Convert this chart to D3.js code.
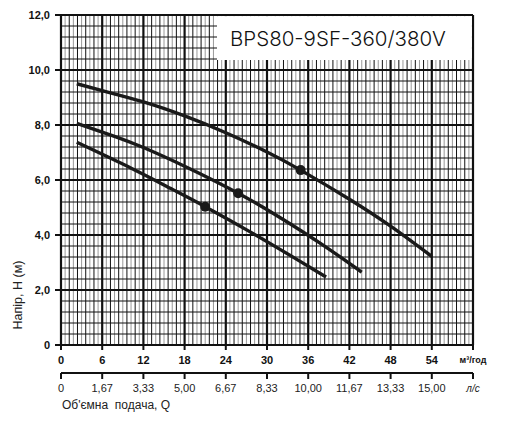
<!DOCTYPE html>
<html>
<head>
<meta charset="utf-8">
<script src="https://cdn.jsdelivr.net/npm/d3@7"></script>
<style>
  body { margin: 0; background: #fff; }
  text { font-family: "Liberation Sans", Arial, sans-serif; fill: #111; }
</style>
</head>
<body>
<div id="chart"></div>
<script>
// curve readings: flow Q (m3/h) and head H (m)
var q1 = [2.3, 6.0, 12.0, 18.0, 24.0, 30.0, 34.9, 42.0, 48.0, 54.0],
    h1 = [9.50, 9.25, 8.84, 8.33, 7.72, 7.02, 6.36, 5.30, 4.32, 3.22];
var q2 = [2.3, 8.0, 12.0, 18.0, 25.8, 32.0, 38.0, 43.8],
    h2 = [8.06, 7.57, 7.18, 6.50, 5.52, 4.62, 3.66, 2.65];
var q3 = [2.3, 10.3, 16.0, 21.0, 28.0, 34.1, 38.6],
    h3 = [7.37, 6.42, 5.69, 5.03, 4.05, 3.15, 2.47];
// duty points
var dotQ = [34.9, 25.8, 21.0],
    dotH = [6.36, 5.52, 5.03];

var yTicks = [0, 2, 4, 6, 8, 10, 12],
    yLabels = ["0", "2,0", "4,0", "6,0", "8,0", "10,0", "12,0"];
var xTicks = [0, 6, 12, 18, 24, 30, 36, 42, 48, 54, 60],
    xLabels = ["0", "6", "12", "18", "24", "30", "36", "42", "48", "54", "м³/год"],
    lsLabels = ["0", "1,67", "3,33", "5,00", "6,67", "8,33", "10,00", "11,67", "13,33", "15,00", "л/с"];

var title = "BPS80-9SF-360/380V";

(function () {
    var width = 512, height = 427;

    var svg = d3.select("#chart").append("svg")
        .attr("width", width)
        .attr("height", height);

    var x = d3.scaleLinear().domain([0, 60]).range([61, 473]);
    var y = d3.scaleLinear().domain([0, 12]).range([345, 15]);

    var grid = svg.append("g");

    // vertical grid: every 0.6, black every 1.2, thick every 6
    var vLines = d3.range(0, 101);
    grid.selectAll(".vl")
        .data(vLines)
        .enter().append("line")
        .attr("x1", function (i) { return x(i * 0.6); })
        .attr("x2", function (i) { return x(i * 0.6); })
        .attr("y1", y(0))
        .attr("y2", y(12))
        .attr("stroke", function (i) { return i % 2 === 0 ? "#111" : "#9a9a9a"; })
        .attr("stroke-width", function (i) { return i % 10 === 0 ? 2.2 : 1; });

    // horizontal grid: every 0.4, thick every 2
    var hLines = d3.range(0, 31);
    grid.selectAll(".hl")
        .data(hLines)
        .enter().append("line")
        .attr("x1", x(0))
        .attr("x2", x(60))
        .attr("y1", function (i) { return y(i * 0.4); })
        .attr("y2", function (i) { return y(i * 0.4); })
        .attr("stroke", "#111")
        .attr("stroke-width", function (i) { return i % 5 === 0 ? 2.2 : 1; });

    // title box
    svg.append("rect")
        .attr("x", 217)
        .attr("y", y(12) + 1.1)
        .attr("width", x(60) - 1.1 - 217)
        .attr("height", 60 - y(12) - 1.1)
        .attr("fill", "#fff");
    svg.append("text")
        .attr("x", 230)
        .attr("y", 46)
        .style("font-family", "Inter, 'Noto Sans', sans-serif")
        .style("font-weight", 300)
        .style("font-size", "20.5px")
        .text(title);

    // left axis ticks and labels
    svg.selectAll(".yt")
        .data(yTicks)
        .enter().append("line")
        .attr("x1", 55).attr("x2", x(0))
        .attr("y1", function (d) { return y(d); })
        .attr("y2", function (d) { return y(d); })
        .attr("stroke", "#111").attr("stroke-width", 2);
    svg.selectAll(".ylab")
        .data(yTicks)
        .enter().append("text")
        .attr("x", 50)
        .attr("y", function (d) { return y(d); })
        .attr("dy", "0.35em")
        .attr("text-anchor", "end")
        .style("font-size", "11px")
        .style("font-weight", "bold")
        .text(function (d, i) { return yLabels[i]; });

    // bottom axis (m3/h)
    svg.selectAll(".xt")
        .data(xTicks)
        .enter().append("line")
        .attr("x1", function (d) { return x(d); })
        .attr("x2", function (d) { return x(d); })
        .attr("y1", y(0)).attr("y2", 350)
        .attr("stroke", "#111").attr("stroke-width", 2);
    svg.selectAll(".xlab")
        .data(xTicks)
        .enter().append("text")
        .attr("x", function (d) { return x(d); })
        .attr("y", 360)
        .attr("dy", "0.35em")
        .attr("text-anchor", "middle")
        .style("font-size", function (d) { return d === 60 ? "9px" : "11px"; })
        .style("font-weight", "bold")
        .text(function (d, i) { return xLabels[i]; });

    // second axis (l/s)
    svg.append("line")
        .attr("x1", x(0)).attr("x2", x(60))
        .attr("y1", 373).attr("y2", 373)
        .attr("stroke", "#111").attr("stroke-width", 2);
    svg.selectAll(".lst")
        .data(xTicks)
        .enter().append("line")
        .attr("x1", function (d) { return x(d); })
        .attr("x2", function (d) { return x(d); })
        .attr("y1", 373).attr("y2", 379)
        .attr("stroke", "#111").attr("stroke-width", 2);
    svg.selectAll(".lslab")
        .data(xTicks)
        .enter().append("text")
        .attr("x", function (d) { return x(d); })
        .attr("y", 388)
        .attr("dy", "0.35em")
        .attr("text-anchor", "middle")
        .style("font-size", function (d) { return d === 60 ? "10px" : "11px"; })
        .style("font-style", function (d) { return d === 60 ? "italic" : "normal"; })
        .style("fill", "#222")
        .text(function (d, i) { return lsLabels[i]; });

    // axis titles
    svg.append("text")
        .attr("x", 62)
        .attr("y", 405)
        .attr("dy", "0.35em")
        .style("font-size", "12px")
        .style("fill", "#222")
        .style("white-space", "pre")
        .text("Об'ємна  подача, Q");
    svg.append("text")
        .attr("transform", "translate(18,295) rotate(-90)")
        .attr("dy", "0.35em")
        .attr("text-anchor", "middle")
        .style("font-size", "12.5px")
        .style("fill", "#222")
        .text("Напір, H (м)");

    // curves
    var line = d3.line()
        .x(function (d) { return x(d[0]); })
        .y(function (d) { return y(d[1]); })
        .curve(d3.curveNatural);

    var series = [d3.zip(q1, h1), d3.zip(q2, h2), d3.zip(q3, h3)];
    svg.selectAll(".curve")
        .data(series)
        .enter().append("path")
        .attr("d", line)
        .attr("fill", "none")
        .attr("stroke", "#1a1a1a")
        .attr("stroke-width", 3.4);

    svg.selectAll(".dot")
        .data(d3.zip(dotQ, dotH))
        .enter().append("circle")
        .attr("cx", function (d) { return x(d[0]); })
        .attr("cy", function (d) { return y(d[1]); })
        .attr("r", 5)
        .attr("fill", "#1a1a1a");
})();
</script>
</body>
</html>
